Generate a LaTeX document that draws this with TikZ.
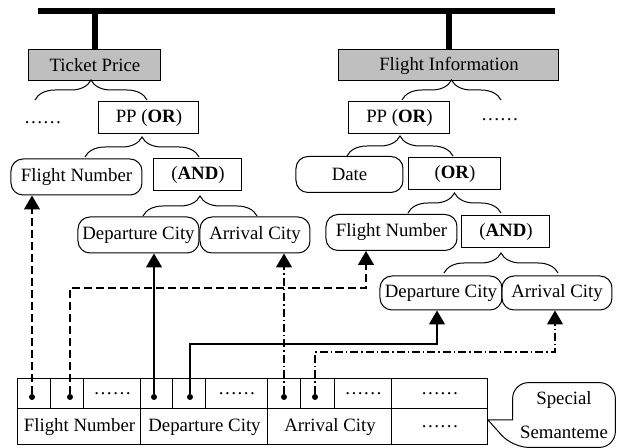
\documentclass[tikz,border=0pt]{standalone}
\usepackage{fontspec}
\setmainfont{Liberation Serif}
\usetikzlibrary{decorations.pathreplacing, arrows.meta}

\tikzset{
    box/.style={draw, line width=0.5pt, inner sep=0pt, minimum height=16pt},
    slot/.style={box, rounded corners=6pt, minimum height=18pt},
    head/.style={box, fill=black!25, minimum height=15.5pt},
    cell/.style={draw, line width=0.5pt, inner sep=0pt, outer sep=0pt},
    dot/.style={circle, fill, inner sep=0pt, minimum size=3pt},
    br/.style={decorate, decoration={brace, amplitude=10pt}, line width=0.5pt},
    bus/.style={line width=3pt},
    link/.style={line width=0.7pt, -{Triangle[width=8pt,length=7pt]}},
    dash4/.style={dash pattern=on 4pt off 2pt},
    dotdash/.style={dash pattern=on 4pt off 1.5pt on 0.7pt off 1.5pt}
}

\begin{document}
\begin{tikzpicture}[x=0.5pt, y=-0.5pt, font=\fontsize{9.4}{11}\selectfont]
    \useasboundingbox (0,0) rectangle (618,448);

    % bus on top
    \coordinate (barL) at (38,11);
    \coordinate (barR) at (555,11);
    \draw[bus] (barL) -- (barR);

    % Ticket Price tree
    \node[head, minimum width=66pt] (tp) at (95,65.5) {Ticket Price};
    \node (etcL) at (43,123) {……};
    \node[box, minimum width=50pt] (ppL) at (149,118) {PP (\textbf{OR})};
    \node[slot, minimum width=65.5pt] (fnL) at (76.5,177) {Flight Number};
    \node[box, minimum width=44pt] (andL) at (198,175) {(\textbf{AND})};
    \node[slot, minimum width=60.5pt] (depL) at (138.5,235) {Departure City};
    \node[slot, minimum width=55pt] (arrL) at (255,235) {Arrival City};

    % Flight Information tree
    \node[head, minimum width=110pt] (fi) at (449,65.5) {Flight Information};
    \node (etcR) at (500,120) {……};
    \node[box, minimum width=50.5pt] (ppR) at (399.5,118) {PP (\textbf{OR})};
    \node[slot, minimum width=53.5pt] (date) at (349.5,174.5) {Date};
    \node[box, minimum width=46pt] (orR) at (455,174) {(\textbf{OR})};
    \node[slot, minimum width=65.5pt] (fnR) at (391.5,232.5) {Flight Number};
    \node[box, minimum width=44pt] (andR) at (506,231.5) {(\textbf{AND})};
    \node[slot, minimum width=61pt, minimum height=17pt] (depR) at (441,293) {Departure City};
    \node[slot, minimum width=55pt, minimum height=17pt] (arrR) at (557,293) {Arrival City};

    \draw[bus] (tp.north) -- (tp.north |- barL);
    \draw[bus] (fi.north) -- (fi.north |- barL);

    % braces
    \draw[br] (35,100) -- (147,100);
    \draw[br] (85,157) -- (199,157);
    \draw[br] (143,216) -- (257,216);
    \draw[br] (402,100) -- (501,100);
    \draw[br] (347,156) -- (453,156);
    \draw[br] (408,213) -- (501,213);
    \draw[br] (444,273) -- (558,273);

    % semanteme table
    \foreach \n/\a/\b in {u1/18/51, u2/51/84, u3/84/141, u4/141/173, u5/173/206,
                          u6/206/268, u7/268/301, u8/301/335, u9/335/392, u10/392/488}
        \node[cell, minimum width={(\b-\a)*0.5pt}, minimum height=15pt] (\n) at ({(\a+\b)/2},394) {};
    \foreach \n/\a/\b/\t in {l1/18/141/Flight Number, l2/141/268/Departure City,
                             l3/268/392/Arrival City, l4/392/488/……}
        \node[cell, minimum width={(\b-\a)*0.5pt}, minimum height=18pt] (\n) at ({(\a+\b)/2},427) {\t};
    \foreach \n in {u3, u6, u9, u10}
        \node at (\n) {……};
    \foreach \n/\x in {d1/32, d2/70, d3/154, d4/190, d5/284, d6/315}
        \node[dot] (\n) at (\x,397) {};

    % links up to the trees
    \coordinate (j2) at (366,288);
    \coordinate (j4) at (437,344);
    \coordinate (j6) at (555,352);
    \draw[link, dash4] (d1) -- (d1 |- fnL.south);
    \draw[link, dash4] (d2) |- (j2) -- (j2 |- fnR.south);
    \draw[link] (d3) -- (d3 |- depL.south);
    \draw[link] (d4) |- (j4) -- (j4 |- depR.south);
    \draw[link, dotdash] (d5) -- (d5 |- arrL.south);
    \draw[link, dotdash] (d6) |- (j6) -- (j6 |- arrR.south);

    % callout
    \node[minimum width=51pt, minimum height=32pt, align=center] (spec) at (564,415)
        {Special\\[6pt]Semanteme};
    \coordinate (tipS) at ([yshift=3.5pt]l4.east);
    \draw[line width=0.5pt] (tipS) -- (spec.west |- tipS) [rounded corners=8pt]
        -- (spec.north west) -- (spec.north east) -- (spec.south east)
        -- (spec.south west) [sharp corners] -- cycle;
\end{tikzpicture}
\end{document}
